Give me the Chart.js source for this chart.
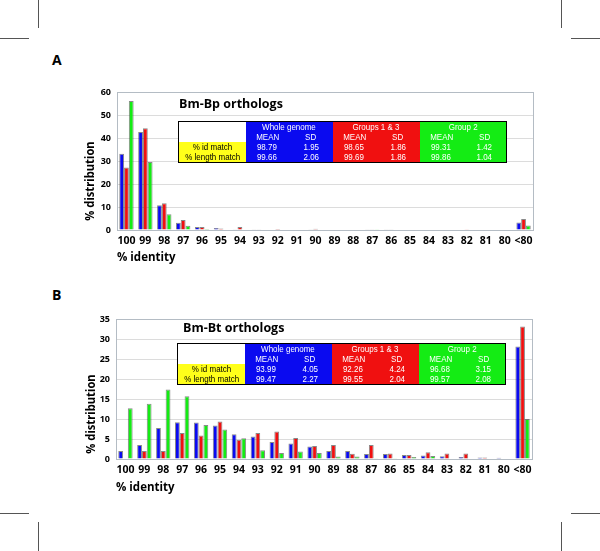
<!DOCTYPE html>
<html>
<head>
<meta charset="utf-8">
<script src="https://cdn.jsdelivr.net/npm/chart.js@4.4.1/dist/chart.umd.min.js"></script>
<style>
body { margin: 0; width: 600px; height: 551px; position: relative; background: #fff; overflow: hidden; font-family: "Open Sans", sans-serif; }
.mark { position: absolute; background: #555; }
.panel { position: absolute; font-weight: bold; font-size: 14px; line-height: 1; }
canvas { position: absolute; left: 0; }
.ytitle { position: absolute; font-weight: bold; font-size: 13px; white-space: nowrap; transform: translate(-50%, -50%) rotate(-90deg) scaleX(0.86); }
.ctitle { position: absolute; font-weight: bold; font-size: 12.5px; white-space: nowrap; line-height: 1; }
table.stats { position: absolute; border-collapse: collapse; border: 1px solid #000; table-layout: fixed;
  font-family: "Liberation Sans", Arial, sans-serif; font-size: 9.5px; color: #fff; }
table.stats td { padding: 0; height: 10px; line-height: 10px; text-align: center; white-space: nowrap; overflow: visible; }
table.stats span { display: inline-block; transform: scaleX(0.84); }
</style>
</head>
<body>
<div class="mark" style="left:38px;top:0;width:1px;height:28px"></div>
<div class="mark" style="left:0;top:38px;width:29px;height:1px"></div>
<div class="mark" style="left:561px;top:0;width:1px;height:28px"></div>
<div class="mark" style="left:571px;top:38px;width:29px;height:1px"></div>
<div class="mark" style="left:0;top:513px;width:29px;height:1px"></div>
<div class="mark" style="left:38px;top:522px;width:1px;height:29px"></div>
<div class="mark" style="left:571px;top:513px;width:29px;height:1px"></div>
<div class="mark" style="left:561px;top:522px;width:1px;height:29px"></div>

<div class="panel" style="left:52px;top:53px">A</div>
<div class="panel" style="left:52px;top:288px">B</div>

<canvas id="chartA" width="600" height="190" style="top:80px"></canvas>
<canvas id="chartB" width="600" height="200" style="top:300px"></canvas>

<div class="ytitle" style="left:89px;top:181px">% distribution</div>
<div class="ytitle" style="left:90px;top:414px">% distribution</div>
<div class="ctitle" style="left:179px;top:98px">Bm-Bp orthologs</div>
<div class="ctitle" style="left:183px;top:322px">Bm-Bt orthologs</div>

<script>
// x categories (% identity)
const identityLabels = ['100', '99', '98', '97', '96', '95', '94', '93', '92', '91', '90',
                        '89', '88', '87', '86', '85', '84', '83', '82', '81', '80', '<80'];

// panel A: Bm-Bp orthologs (% distribution)
const bpWhole = [33.2, 42.6, 10.8, 3.2, 1.3, 0.9, 0.3, 0.3, 0.2, 0.2, 0.3, 0.2, 0.2, 0.3, 0.3, 0, 0, 0, 0.2, 0, 0, 3.3];
const bpG13   = [27.2, 44.2, 11.6, 4.3, 1.3, 0.6, 1.3, 0.3, 0.4, 0.2, 0.5, 0, 0.2, 0.3, 0.3, 0, 0, 0, 0.1, 0, 0, 4.8];
const bpG2    = [56.1, 29.6, 6.9, 1.9, 0.4, 0.2, 0, 0.2, 0, 0, 0, 0, 0, 0.1, 0, 0, 0, 0, 0, 0, 0, 2.0];

// panel B: Bm-Bt orthologs (% distribution)
const btWhole = [2.0, 3.5, 7.75, 9.2, 9.1, 8.4, 6.2, 5.6, 4.25, 3.9, 3.1, 2.0, 2.0, 1.25, 1.25, 1.0, 0.9, 0.7, 0.5, 0.35, 0.3, 28.1];
const btG13   = [0, 2.0, 2.0, 6.5, 5.9, 9.4, 4.8, 6.5, 6.9, 5.25, 3.25, 3.5, 1.3, 3.5, 1.4, 1.0, 1.7, 1.4, 1.4, 0.35, 0, 33.1];
const btG2    = [12.7, 13.8, 17.4, 15.7, 8.5, 7.4, 5.2, 2.2, 1.5, 1.9, 1.5, 0.6, 0.6, 0.2, 0.2, 0.5, 0.75, 0, 0, 0.1, 0, 10.0];

// summary tables
const statGroups = ['Whole genome', 'Groups 1 & 3', 'Group 2'];
const statRows = ['% id match', '% length match'];
const bpIdMean  = ['98.79', '98.65', '99.31'];
const bpIdSd    = ['1.95', '1.86', '1.42'];
const bpLenMean = ['99.66', '99.69', '99.86'];
const bpLenSd   = ['2.06', '1.86', '1.04'];
const btIdMean  = ['93.99', '92.26', '96.68'];
const btIdSd    = ['4.05', '4.24', '3.15'];
const btLenMean = ['99.47', '99.55', '99.57'];
const btLenSd   = ['2.27', '2.04', '2.08'];

const groupColors = ['#0a0af0', '#f01010', '#14ec14'];

// light frame round the plot area
const plotFrame = {
    id: 'plotFrame',
    beforeDatasetsDraw(chart) {
        const a = chart.chartArea;
        const ctx = chart.ctx;
        ctx.save();
        ctx.strokeStyle = '#b4bcc4';
        ctx.lineWidth = 1;
        ctx.strokeRect(Math.round(a.left) + 0.5, Math.round(a.top) + 0.5, Math.round(a.right - a.left), Math.round(a.bottom - a.top));
        ctx.restore();
    }
};

function makeChart(id, series, yMax, yStep, pad, yWidth, xHeight) {
    const ctx = document.getElementById(id).getContext('2d');
    return new Chart(ctx, {
        type: 'bar',
        data: {
            labels: identityLabels,
            datasets: series.map((values, i) => ({
                data: values,
                backgroundColor: groupColors[i],
                borderColor: 'rgba(40,40,40,0.55)',
                borderWidth: { left: 1, right: 1, top: 1, bottom: 0 },
                borderSkipped: 'bottom',
                categoryPercentage: 0.76,
                barPercentage: 1.0
            }))
        },
        options: {
            responsive: false,
            animation: false,
            layout: { padding: pad },
            plugins: { legend: { display: false }, tooltip: { enabled: false } },
            scales: {
                x: {
                    grid: { display: false, drawTicks: false },
                    border: { color: '#8a8f94' },
                    ticks: {
                        color: '#000',
                        font: { family: 'Open Sans', weight: 'bold', size: 10.5 },
                        padding: 5,
                        maxRotation: 0,
                        autoSkip: false
                    },
                    title: {
                        display: true,
                        text: '% identity',
                        align: 'start',
                        color: '#000',
                        font: { family: 'Open Sans', weight: 'bold', size: 11.5 },
                        padding: { top: 2, bottom: 5 }
                    },
                    afterFit: (s) => { s.height = xHeight; }
                },
                y: {
                    min: 0,
                    max: yMax,
                    grid: { color: '#dcdcdc', drawTicks: false },
                    border: { display: false },
                    ticks: {
                        stepSize: yStep,
                        color: '#000',
                        font: { family: 'Open Sans', weight: 'bold', size: 9 },
                        padding: 6
                    },
                    afterFit: (s) => { s.width = yWidth; }
                }
            }
        },
        plugins: [plotFrame]
    });
}

function cell(bg, text, extra) {
    return '<td ' + (extra || '') + ' style="background:' + bg + (bg === '#ffff1a' ? ';color:#000' : '') + '"><span>' + text + '</span></td>';
}

function makeTable(left, top, width, idMean, idSd, lenMean, lenSd) {
    const t = document.createElement('table');
    t.className = 'stats';
    t.style.left = left + 'px';
    t.style.top = top + 'px';
    t.style.width = width + 'px';
    const first = 67;
    const half = (width - first) / 6;
    let html = '<colgroup><col style="width:' + first + 'px">';
    for (let i = 0; i < 6; i++) html += '<col style="width:' + half + 'px">';
    html += '</colgroup>';
    html += '<tr>' + cell('#fff', '');
    statGroups.forEach((g, i) => { html += cell(groupColors[i], g, 'colspan="2"'); });
    html += '</tr><tr>' + cell('#fff', '');
    statGroups.forEach((g, i) => { html += cell(groupColors[i], 'MEAN') + cell(groupColors[i], 'SD'); });
    html += '</tr>';
    [[idMean, idSd], [lenMean, lenSd]].forEach((pair, r) => {
        html += '<tr>' + cell('#ffff1a', statRows[r]);
        statGroups.forEach((g, i) => { html += cell(groupColors[i], pair[0][i]) + cell(groupColors[i], pair[1][i]); });
        html += '</tr>';
    });
    t.innerHTML = html;
    document.body.appendChild(t);
}

makeChart('chartA', [bpWhole, bpG13, bpG2], 60, 10, { left: 0, top: 12, right: 67, bottom: 0 }, 117, 40);
makeChart('chartB', [btWhole, btG13, btG2], 35, 5, { left: 0, top: 19, right: 68, bottom: 0 }, 116, 41);

makeTable(178, 121, 328, bpIdMean, bpIdSd, bpLenMean, bpLenSd);
makeTable(177, 343, 328, btIdMean, btIdSd, btLenMean, btLenSd);
</script>
</body>
</html>
